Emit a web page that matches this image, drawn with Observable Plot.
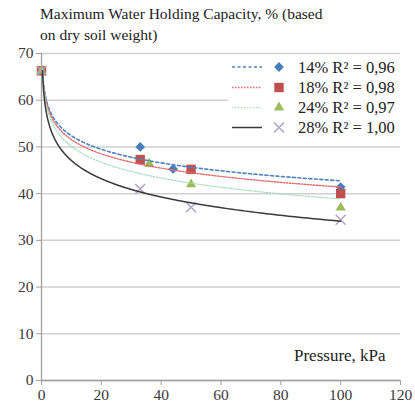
<!DOCTYPE html>
<html><head><meta charset="utf-8">
<script src="https://cdn.jsdelivr.net/npm/d3@7"></script>
<script src="https://cdn.jsdelivr.net/npm/@observablehq/plot@0.6"></script>
<style>
body{margin:0;background:#fff;}
#wrap{position:relative;width:415px;height:404px;font-family:"Liberation Serif","Times New Roman",Times,Tinos,"Noto Serif","DejaVu Serif","FreeSerif","Nimbus Roman","Noto Serif CJK SC",serif;}
#title{position:absolute;left:40px;top:3px;font-size:15.5px;line-height:21px;color:#222;white-space:nowrap;}
#legend{position:absolute;left:0;top:0;}
#xlabel{position:absolute;left:294px;top:346px;font-size:17px;color:#222;}
</style></head><body>
<div id="wrap"><div id="chart"></div>
<div id="title">Maximum Water Holding Capacity, % (based<br>on dry soil weight)</div>
<div id="xlabel">Pressure, kPa</div>
<svg id="legend" width="415" height="404"></svg></div>
<script>
// ---- data ----
const seriesNames = ["14%", "18%", "24%", "28%"];
const rSquared = ["0,96", "0,98", "0,97", "1,00"];
const pressure14 = [0, 33, 44, 100];
const values14   = [66.3, 50.0, 45.3, 41.4];
const pressure18 = [0, 33, 50, 100];
const values18   = [66.3, 47.3, 45.2, 40.0];
const pressure24 = [0, 36, 50, 100];
const values24   = [66.3, 46.4, 42.0, 37.0];
const pressure28 = [0, 33, 50, 100];
const values28   = [66.3, 41.0, 37.1, 34.4];
const xTicks = [0, 20, 40, 60, 80, 100, 120];
const yTicks = [0, 10, 20, 30, 40, 50, 60, 70];

// ---- styles ----
const styles = [
  {marker: "#4a7ebb", line: "#4f81bd", dash: "3,2.5", width: 1.6, symbol: "square", rotate: 45, r: 3.9, fill: true},
  {marker: "#c0504d", line: "#e06a6a", dash: "1.5,1.5", width: 1.4, symbol: "square", rotate: 0, r: 5.3, fill: true},
  {marker: "#9bbb59", line: "#a6dcb8", dash: "1.5,1.5", width: 1.2, symbol: "triangle", rotate: 0, r: 3.8, fill: true},
  {marker: "#b3a2c7", line: "#3a3a3a", dash: null, width: 1.5, symbol: "times", rotate: 0, r: 4.6, fill: false}
];

const pressures = [pressure14, pressure18, pressure24, pressure28];
const values = [values14, values18, values24, values28];

// logarithmic trendline (least squares on ln x); x=0 evaluated at a small floor pressure
const fitFloor = 0.33;
function logFit(xs, ys) {
  const lx = xs.map(x => Math.log(Math.max(x, fitFloor)));
  const mx = d3.mean(lx), my = d3.mean(ys);
  const b = d3.sum(lx, (v, i) => (v - mx) * (ys[i] - my)) / d3.sum(lx, v => (v - mx) ** 2);
  return {a: my - b * mx, b};
}

const serif = "'Liberation Serif','Times New Roman',Times,Tinos,'Noto Serif','DejaVu Serif',FreeSerif,'Nimbus Roman','Noto Serif CJK SC',serif";
const marks = [
  Plot.gridY(yTicks, {stroke: "#d0d0d0", strokeOpacity: 1, strokeWidth: 1.5}),
  Plot.ruleX([0], {stroke: "#a0a0a0", strokeWidth: 1.3}),
  Plot.ruleY([0], {stroke: "#a0a0a0", strokeWidth: 1.3}),
  Plot.axisY(yTicks, {tickSize: 5, tickPadding: 3, stroke: "#a0a0a0", fill: "#3a3a3a", fontSize: 15.5, label: null}),
  Plot.axisX(xTicks, {tickSize: 5, tickPadding: 3, stroke: "#a0a0a0", fill: "#3a3a3a", fontSize: 15.5, label: null})
];

values.forEach((ys, k) => {
  const xs = pressures[k];
  const s = styles[k];
  const pts = xs.map((x, i) => ({x, y: ys[i]}));
  marks.push(Plot.dot(pts, {
    x: "x", y: "y", symbol: s.symbol, r: s.r, rotate: s.rotate,
    fill: s.fill ? s.marker : "none", stroke: s.fill ? "none" : s.marker, strokeWidth: 1.5
  }));
});
values.forEach((ys, k) => {
  const xs = pressures[k];
  const s = styles[k];
  const {a, b} = logFit(xs, ys);
  const xmax = d3.max(xs);
  const curve = d3.range(0, 241).map(t => {
    const x = fitFloor * Math.pow(xmax / fitFloor, t / 240);
    return {x, y: a + b * Math.log(x)};
  });
  marks.push(Plot.line(curve, {x: "x", y: "y", stroke: s.line, strokeWidth: s.width, strokeDasharray: s.dash, curve: "linear"}));
});

const chart = Plot.plot({
  width: 415, height: 404,
  marginLeft: 41, marginRight: 15, marginTop: 53, marginBottom: 24,
  x: {domain: [0, 120], label: null},
  y: {domain: [0, 70], label: null},
  style: {fontFamily: serif, fontSize: "15px", background: "#fff"},
  marks
});
document.getElementById("chart").appendChild(chart);

// ---- legend ----
const lg = d3.select("#legend").style("font-family", serif);
lg.append("rect").attr("x", 228).attr("y", 56).attr("width", 172).attr("height", 86).attr("fill", "#fff");
const rowY = [67, 87.5, 107.5, 127.5];
const symbolMap = {square: d3.symbolSquare, triangle: d3.symbolTriangle, times: d3.symbolTimes};
seriesNames.forEach((name, k) => {
  const s = styles[k];
  const y = rowY[k];
  lg.append("line").attr("x1", 232).attr("x2", 262).attr("y1", y).attr("y2", y)
    .attr("stroke", s.line).attr("stroke-width", s.width).attr("stroke-dasharray", s.dash);
  lg.append("path").attr("d", d3.symbol(symbolMap[s.symbol], Math.PI * s.r * s.r)())
    .attr("transform", `translate(279,${y}) rotate(${s.rotate})`)
    .attr("fill", s.fill ? s.marker : "none").attr("stroke", s.fill ? "none" : s.marker).attr("stroke-width", 1.5);
  lg.append("text").attr("x", 298).attr("y", y).attr("dy", "0.35em")
    .attr("font-size", 16.5).attr("fill", "#222")
    .text(`${name} R² = ${rSquared[k]}`);
});
</script>
</body></html>
